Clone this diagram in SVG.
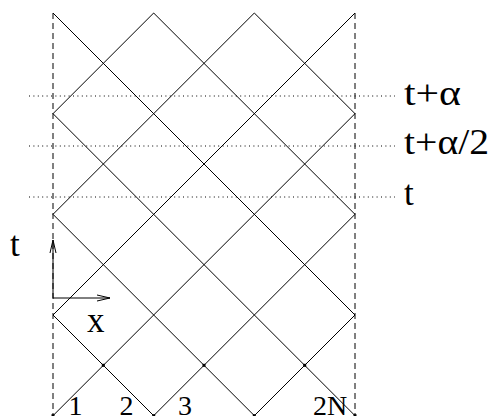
<svg xmlns="http://www.w3.org/2000/svg" width="491" height="416" viewBox="0 0 491 416">
<style>
.ln{stroke:#000;stroke-width:1;fill:none}
.bd{stroke:#000;stroke-width:1;fill:none;stroke-dasharray:6 4}
.dt{stroke:#000;stroke-width:1;fill:none;stroke-dasharray:1 3.4}
</style>
<defs>
<marker id="ah" markerUnits="userSpaceOnUse" markerWidth="20" markerHeight="10" viewBox="-14 -5 16 10" refX="0" refY="0" orient="auto">
<path d="M-13,-3 L0,0 L-13,3" fill="none" stroke="#000" stroke-width="1"/>
</marker>
</defs>
<rect width="491" height="416" fill="#fff"/>
<g id="boundaries">
<line class="bd" x1="53" y1="13" x2="53" y2="416"/>
<line class="bd" x1="355" y1="13" x2="355" y2="416"/>
</g>
<g id="time-levels">
<line class="dt" x1="29" y1="96" x2="395" y2="96"/>
<line class="dt" x1="29" y1="146" x2="395" y2="146"/>
<line class="dt" x1="29" y1="197" x2="395" y2="197"/>
</g>
<g id="lattice">
<line class="ln" x1="53" y1="13" x2="355" y2="315"/>
<line class="ln" x1="153.67" y1="13" x2="355" y2="214.33"/>
<line class="ln" x1="254.33" y1="13" x2="355" y2="113.67"/>
<line class="ln" x1="53" y1="113.67" x2="355" y2="415.67"/>
<line class="ln" x1="53" y1="214.33" x2="255" y2="416.33"/>
<line class="ln" x1="53" y1="315" x2="154.33" y2="416.33"/>
<line class="ln" x1="355" y1="13" x2="53" y2="315"/>
<line class="ln" x1="254.33" y1="13" x2="53" y2="214.33"/>
<line class="ln" x1="153.67" y1="13" x2="53" y2="113.67"/>
<line class="ln" x1="355" y1="113.67" x2="53" y2="415.67"/>
<line class="ln" x1="355" y1="214.33" x2="153" y2="416.33"/>
<line class="ln" x1="355" y1="315" x2="253.67" y2="416.33"/>
</g>
<g id="sites">
<rect x="101.8" y="363.8" width="3" height="3"/>
<rect x="202.5" y="363.8" width="3" height="3"/>
<rect x="303.2" y="363.8" width="3" height="3"/>
<rect x="51.5" y="414.2" width="3" height="3"/>
<rect x="152.2" y="414.2" width="3" height="3"/>
<rect x="252.8" y="414.2" width="3" height="3"/>
<rect x="353.5" y="414.2" width="3" height="3"/>
</g>
<g id="axes">
<line class="ln" x1="53" y1="298" x2="53" y2="240" marker-end="url(#ah)"/>
<line class="ln" x1="53" y1="298" x2="110" y2="298" marker-end="url(#ah)"/>
</g>
<g id="labels" font-family="Liberation Serif, serif" fill="#000">
<text font-size="35" x="10" y="256">t</text>
<text font-size="35" x="87" y="332">x</text>
<text font-size="35" x="404" y="105" textLength="57" lengthAdjust="spacingAndGlyphs">t+α</text>
<text font-size="35" x="404" y="154" textLength="85" lengthAdjust="spacingAndGlyphs">t+α/2</text>
<text font-size="35" x="404" y="205">t</text>
<text font-size="28" x="75.5" y="415" text-anchor="middle">1</text>
<text font-size="28" x="126.5" y="415" text-anchor="middle">2</text>
<text font-size="28" x="185" y="415" text-anchor="middle">3</text>
<text font-size="28" x="330" y="415" text-anchor="middle">2N</text>
</g>
</svg>
